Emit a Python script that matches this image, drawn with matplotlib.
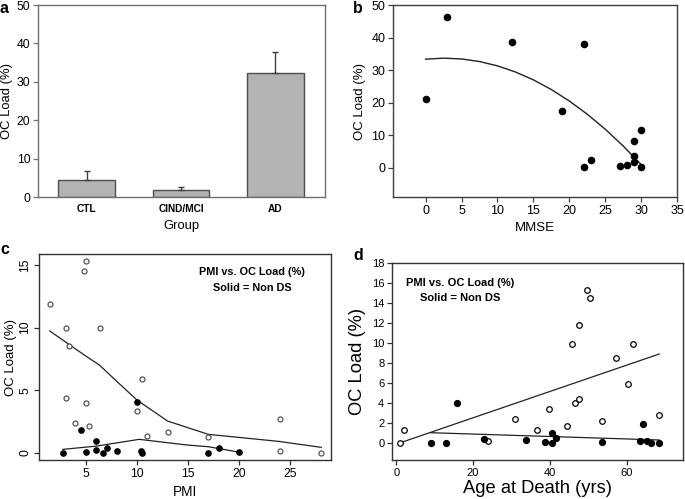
import matplotlib.pyplot as plt

plt.rcParams['font.family'] = ['Liberation Sans', 'DejaVu Sans']

# ---- panel a: group means ----
groups = ['CTL', 'CIND/MCI', 'AD']
group_load = [4.5, 1.8, 32.3]
group_err = [2.3, 0.8, 5.5]

# ---- panel b: MMSE vs OC load ----
mmse = [0, 3, 12, 19, 22, 22, 23, 27, 28, 29, 29, 29, 30, 30]
mmse_load = [21.1, 46.3, 38.7, 17.4, 38.1, 0.2, 2.4, 0.6, 0.8, 8.2, 3.7, 1.8, 11.6, 0.3]
mmse_fit_x = [0, 2.5, 5, 7.5, 10, 12.5, 15, 17.5, 20, 22.5, 25, 27.5, 30]
mmse_fit_y = [33.35, 33.66, 33.42, 32.63, 31.3, 29.42, 27.0, 24.03, 20.51, 16.45, 11.85, 6.69, 1.0]

# ---- panel c: PMI vs OC load (open = DS, solid = non DS) ----
pmi_ds = [1.4, 3.0, 3.3, 3.0, 3.9, 4.8, 5.0, 5.0, 5.3, 6.3, 10.0, 10.5, 11.0, 13.0, 17.0, 24.0, 24.0, 28.1]
pmi_ds_load = [11.9, 10.0, 8.5, 4.4, 2.4, 14.55, 15.3, 4.0, 2.16, 10.0, 3.36, 5.89, 1.31, 1.65, 1.28, 2.72, 0.16, 0.0]
pmi_non = [2.7, 4.45, 5.0, 6.0, 6.0, 6.6, 7.0, 8.0, 10.0, 10.4, 10.5, 17.0, 18.0, 20.0]
pmi_non_load = [0.0, 1.81, 0.05, 0.96, 0.2, 0.0, 0.35, 0.11, 4.05, 0.11, 0.0, 0.0, 0.37, 0.05]
pmi_ds_fit_x = [1.4, 5.0, 6.3, 8.0, 10.0, 13.0, 17.0, 24.0, 28.1]
pmi_ds_fit_y = [9.73, 7.7, 7.0, 5.7, 4.2, 2.53, 1.47, 0.9, 0.43]
pmi_non_fit_x = [2.7, 6.0, 10.2, 14.9, 17.0, 20.0]
pmi_non_fit_y = [0.27, 0.53, 1.07, 0.62, 0.48, 0.05]

# ---- panel d: age at death vs OC load ----
age_ds = [1.1, 2.1, 23.9, 30.8, 36.6, 39.7, 44.5, 45.6, 46.6, 47.5, 47.5, 49.5, 50.4,
          53.5, 57.3, 60.4, 61.5, 68.4]
age_ds_load = [0.0, 1.28, 0.2, 2.4, 1.28, 3.4, 1.65, 9.95, 4.0, 4.36, 11.85, 15.3, 14.5,
               2.18, 8.46, 5.88, 9.95, 2.76]
age_non = [9.0, 12.9, 15.9, 22.8, 33.7, 38.7, 40.6, 40.6, 41.6, 53.5, 63.3, 64.3, 65.2,
           66.4, 68.4]
age_non_load = [0.0, 0.0, 4.0, 0.37, 0.27, 0.02, 1.0, 0.0, 0.44, 0.1, 0.17, 1.85, 0.17,
                0.0, 0.0]
age_ds_fit_x = [1.1, 68.4]
age_ds_fit_y = [0.0, 8.9]
age_non_fit_x = [9.0, 68.4]
age_non_fit_y = [1.0, 0.27]

W, H = 685, 499
fig = plt.figure(figsize=(W / 100, H / 100), dpi=100)


def px_axes(left, top, right, bottom):
    return fig.add_axes([left / W, 1 - bottom / H, (right - left) / W, (bottom - top) / H])


def style_box(ax, color):
    for sp in ax.spines.values():
        sp.set_color(color)
        sp.set_linewidth(1.0)
    ax.tick_params(direction='out', length=3.5, width=0.9, color=color, pad=2)


# ------------------------------------------------------------------
# a
# ------------------------------------------------------------------
ax_a = px_axes(38, 5, 325, 197)
style_box(ax_a, '#707070')
xpos = list(range(len(groups)))
ax_a.bar(xpos, group_load, width=0.6, color='#b3b3b3', edgecolor='#505050', linewidth=1.0)
ax_a.errorbar(xpos, group_load, yerr=[[0] * len(groups), group_err], fmt='none',
              ecolor='#404040', elinewidth=1.0, capsize=2.2, capthick=1.0)
ax_a.set_xlim(-0.516, 2.527)
ax_a.set_ylim(0, 50)
ax_a.set_yticks([0, 10, 20, 30, 40, 50])
ax_a.set_xticks(xpos)
ax_a.set_xticklabels(groups, fontsize=7.3, fontweight='bold')
ax_a.tick_params(axis='x', length=0, pad=5)
ax_a.tick_params(axis='y', labelsize=8.8)
ax_a.set_ylabel('OC Load (%)', fontsize=9.4, labelpad=3)
ax_a.set_xlabel('Group', fontsize=9.4, labelpad=4)

# ------------------------------------------------------------------
# b
# ------------------------------------------------------------------
ax_b = px_axes(393, 5, 677, 197)
style_box(ax_b, '#404040')
ax_b.scatter(mmse, mmse_load, s=20, color='black', zorder=3)
ax_b.plot(mmse_fit_x, mmse_fit_y, color='#222222', lw=1.0)
ax_b.set_xlim(-4.54, 35)
ax_b.set_ylim(-9.0, 50)
ax_b.set_xticks([0, 5, 10, 15, 20, 25, 30, 35])
ax_b.set_yticks([0, 10, 20, 30, 40, 50])
ax_b.tick_params(labelsize=9)
ax_b.set_ylabel('OC Load (%)', fontsize=9.5, labelpad=4)
ax_b.set_xlabel('MMSE', fontsize=9.5, labelpad=4)

# ------------------------------------------------------------------
# c
# ------------------------------------------------------------------
ax_c = px_axes(39, 254, 331, 460)
style_box(ax_c, '#333333')
ax_c.plot(pmi_ds, pmi_ds_load, 'o', ms=3.6, mfc='white', mec='#555555', mew=0.9, zorder=3)
ax_c.plot(pmi_non, pmi_non_load, 'o', ms=3.8, color='black', zorder=3)
ax_c.plot(pmi_ds_fit_x, pmi_ds_fit_y, color='#222222', lw=0.9)
ax_c.plot(pmi_non_fit_x, pmi_non_fit_y, color='#222222', lw=0.9)
ax_c.set_xlim(0.35, 29.06)
ax_c.set_ylim(-0.58, 15.88)
ax_c.set_xticks([5, 10, 15, 20, 25])
ax_c.set_yticks([0, 5, 10, 15])
ax_c.tick_params(labelsize=8.8)
for lbl in ax_c.get_yticklabels():
    lbl.set_rotation(90)
    lbl.set_va('center')
ax_c.set_ylabel('OC Load (%)', fontsize=9.5, labelpad=1.5)
ax_c.set_xlabel('PMI', fontsize=9.8, labelpad=4)
ax_c.text(0.729, 0.913, 'PMI vs. OC Load (%)', transform=ax_c.transAxes,
          ha='center', va='center', fontsize=7.8, fontweight='bold')
ax_c.text(0.729, 0.835, 'Solid = Non DS', transform=ax_c.transAxes,
          ha='center', va='center', fontsize=7.8, fontweight='bold')

# ------------------------------------------------------------------
# d
# ------------------------------------------------------------------
ax_d = px_axes(392, 263, 683, 460)
style_box(ax_d, '#333333')
ax_d.plot(age_ds, age_ds_load, 'o', ms=4.0, mfc='white', mec='black', mew=0.9, zorder=3)
ax_d.plot(age_non, age_non_load, 'o', ms=4.2, color='black', zorder=3)
ax_d.plot(age_ds_fit_x, age_ds_fit_y, color='#222222', lw=0.9)
ax_d.plot(age_non_fit_x, age_non_fit_y, color='#222222', lw=0.9)
ax_d.set_xlim(-1.1, 74.6)
ax_d.set_ylim(-1.74, 18.04)
ax_d.set_xticks([0, 20, 40, 60])
ax_d.set_yticks(list(range(0, 19, 2)))
ax_d.tick_params(labelsize=8)
ax_d.set_ylabel('OC Load (%)', fontsize=13.2, labelpad=4)
ax_d.set_xlabel('Age at Death (yrs)', fontsize=13.2, labelpad=2)
ax_d.text(0.235, 0.90, 'PMI vs. OC Load (%)', transform=ax_d.transAxes,
          ha='center', va='center', fontsize=8, fontweight='bold')
ax_d.text(0.235, 0.824, 'Solid = Non DS', transform=ax_d.transAxes,
          ha='center', va='center', fontsize=8, fontweight='bold')

# panel letters
for letter, x, y in [('a', 0, 13), ('b', 353, 13), ('c', 0, 254), ('d', 353, 260)]:
    fig.text(x / W, 1 - y / H, letter, fontsize=11.5, fontweight='bold', va='baseline')

fig.savefig('out.png', dpi=100)
